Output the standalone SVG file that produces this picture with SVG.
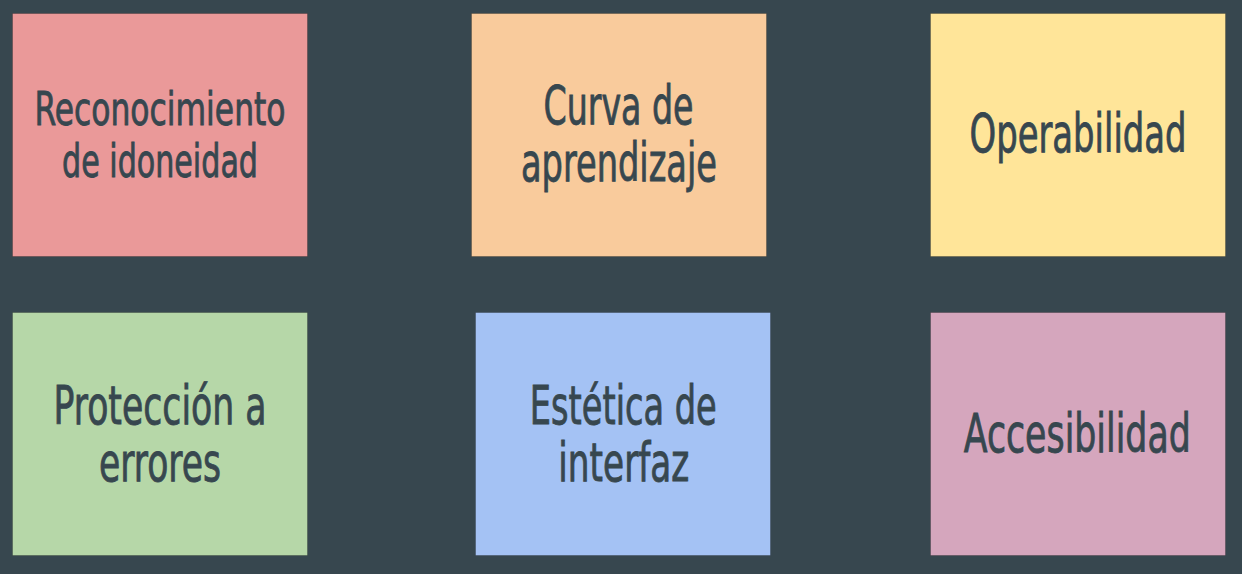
<svg xmlns="http://www.w3.org/2000/svg" width="1242" height="574" viewBox="0 0 1242 574">
<style>
.box{stroke:#000;stroke-opacity:0.22;stroke-width:1}
.t{font-family:"DejaVu Sans Condensed","DejaVu Sans","Liberation Sans",sans-serif;fill:#37474f;stroke:#37474f;stroke-width:0.6;text-anchor:middle;font-size:38px}
.s{font-size:33.5px}
</style>
<rect width="1242" height="574" fill="#37474f"/>
<g id="connectors"/>
<g id="n1">
<rect class="box" x="12.5" y="13.5" width="295" height="243" fill="#ea9999"/>
<text class="t s" transform="translate(160 125) scale(1 1.39)" textLength="251" lengthAdjust="spacingAndGlyphs">Reconocimiento</text>
<text class="t s" transform="translate(160 176.5) scale(1 1.39)" textLength="196" lengthAdjust="spacingAndGlyphs">de idoneidad</text>
</g>
<g id="n2">
<rect class="box" x="471.5" y="13.5" width="295" height="243" fill="#f9cb9c"/>
<text class="t" transform="translate(618.5 124) scale(1 1.39)" textLength="150" lengthAdjust="spacingAndGlyphs">Curva de</text>
<text class="t" transform="translate(619 181) scale(1 1.39)" textLength="196" lengthAdjust="spacingAndGlyphs">aprendizaje</text>
</g>
<g id="n3">
<rect class="box" x="930.5" y="13.5" width="295" height="243" fill="#ffe599"/>
<text class="t" transform="translate(1078 151.7) scale(1 1.39)" textLength="217" lengthAdjust="spacingAndGlyphs">Operabilidad</text>
</g>
<g id="n4">
<rect class="box" x="12.5" y="312.5" width="295" height="243" fill="#b6d7a8"/>
<text class="t" transform="translate(160 424) scale(1 1.39)" textLength="213" lengthAdjust="spacingAndGlyphs">Protección a</text>
<text class="t" transform="translate(160 481) scale(1 1.39)" textLength="122" lengthAdjust="spacingAndGlyphs">errores</text>
</g>
<g id="n5">
<rect class="box" x="475.5" y="312.5" width="295" height="243" fill="#a4c2f4"/>
<text class="t" transform="translate(623.3 424) scale(1 1.39)" textLength="187" lengthAdjust="spacingAndGlyphs">Estética de</text>
<text class="t" transform="translate(623.8 481) scale(1 1.39)" textLength="131" lengthAdjust="spacingAndGlyphs">interfaz</text>
</g>
<g id="n6">
<rect class="box" x="930.5" y="312.5" width="295" height="243" fill="#d5a6bd"/>
<text class="t" transform="translate(1077.3 451.7) scale(1 1.39)" textLength="227" lengthAdjust="spacingAndGlyphs">Accesibilidad</text>
</g>
</svg>
